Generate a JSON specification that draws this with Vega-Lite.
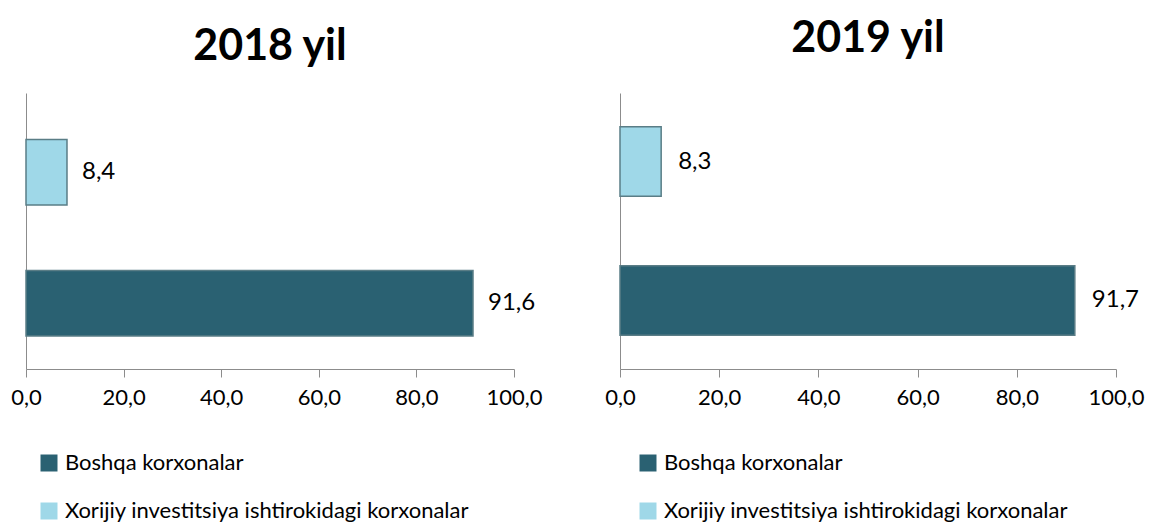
{
  "$schema": "https://vega.github.io/schema/vega-lite/v6.json",
  "background": "white",
  "padding": {"left": 10, "top": 18, "right": 0, "bottom": 0},
  "bounds": "flush",
  "spacing": 106,
  "config": {
    "locale": {"number": {"decimal": ",", "thousands": " ", "grouping": [3], "currency": ["", ""]}},
    "font": "Lato",
    "view": {"stroke": null},
    "title": {"font": "Lato", "fontSize": 43, "fontWeight": "bold", "color": "#000000"},
    "axis": {"labelFont": "Lato", "labelFontSize": 22, "labelColor": "#000000", "domainColor": "#8c8c8c", "tickColor": "#8c8c8c", "grid": false, "labelFlush": false},
    "legend": {"labelFont": "Lato", "labelFontSize": 22, "labelColor": "#000000", "labelLimit": 0}
  },
  "datasets": {
    "d": [
      {"year": "2018 yil", "group": "Xorijiy investitsiya ishtirokidagi korxonalar", "value": 8.4},
      {"year": "2018 yil", "group": "Boshqa korxonalar", "value": 91.6},
      {"year": "2019 yil", "group": "Xorijiy investitsiya ishtirokidagi korxonalar", "value": 8.3},
      {"year": "2019 yil", "group": "Boshqa korxonalar", "value": 91.7}
    ]
  },
  "resolve": {"scale": {"color": "independent"}, "legend": {"color": "independent"}},
  "hconcat": [
    {
      "title": {"text": "2018 yil", "offset": 24},
      "width": 488,
      "height": 276,
      "data": {"name": "d"},
      "transform": [{"filter": "datum.year === '2018 yil'"}],
      "encoding": {
        "y": {"field": "group", "type": "nominal", "sort": ["Xorijiy investitsiya ishtirokidagi korxonalar", "Boshqa korxonalar"], "scale": {"paddingInner": 0.5, "paddingOuter": 0.303, "align": 0.585}, "axis": {"title": null, "labels": false, "ticks": false}},
        "x": {"field": "value", "type": "quantitative", "scale": {"domain": [0, 100]}, "axis": {"title": null, "values": [0, 20, 40, 60, 80, 100], "format": ".1f", "tickSize": 8, "labelPadding": 10}}
      },
      "layer": [
        {
          "mark": {"type": "bar", "stroke": "#5a7d86", "strokeWidth": 1.5},
          "encoding": {
            "color": {"field": "group", "type": "nominal", "scale": {"domain": ["Boshqa korxonalar", "Xorijiy investitsiya ishtirokidagi korxonalar"], "range": ["#2a6172", "#9fd8e8"]},
              "legend": {"title": null, "orient": "none", "legendX": 12, "legendY": 359, "symbolType": "square", "symbolSize": 289, "symbolStrokeWidth": 0, "rowPadding": 26, "labelOffset": 5}}
          }
        },
        {
          "mark": {"type": "text", "align": "left", "dx": 15, "fontSize": 24, "font": "Lato", "color": "#000000"},
          "encoding": {"text": {"field": "value", "type": "quantitative", "format": ".1f"}}
        }
      ]
    },
    {
      "title": {"text": "2019 yil", "offset": 32},
      "width": 496,
      "height": 276,
      "data": {"name": "d"},
      "transform": [{"filter": "datum.year === '2019 yil'"}],
      "encoding": {
        "y": {"field": "group", "type": "nominal", "sort": ["Xorijiy investitsiya ishtirokidagi korxonalar", "Boshqa korxonalar"], "scale": {"paddingInner": 0.5, "paddingOuter": 0.243, "align": 0.5}, "axis": {"title": null, "labels": false, "ticks": false}},
        "x": {"field": "value", "type": "quantitative", "scale": {"domain": [0, 100]}, "axis": {"title": null, "values": [0, 20, 40, 60, 80, 100], "format": ".1f", "tickSize": 8, "labelPadding": 10}}
      },
      "layer": [
        {
          "mark": {"type": "bar", "stroke": "#5a7d86", "strokeWidth": 1.5},
          "encoding": {
            "color": {"field": "group", "type": "nominal", "scale": {"domain": ["Boshqa korxonalar", "Xorijiy investitsiya ishtirokidagi korxonalar"], "range": ["#2a6172", "#9fd8e8"]},
              "legend": {"title": null, "orient": "none", "legendX": 17, "legendY": 359, "symbolType": "square", "symbolSize": 289, "symbolStrokeWidth": 0, "rowPadding": 26, "labelOffset": 5}}
          }
        },
        {
          "mark": {"type": "text", "align": "left", "dx": 17, "fontSize": 24, "font": "Lato", "color": "#000000"},
          "encoding": {"text": {"field": "value", "type": "quantitative", "format": ".1f"}}
        }
      ]
    }
  ]
}
